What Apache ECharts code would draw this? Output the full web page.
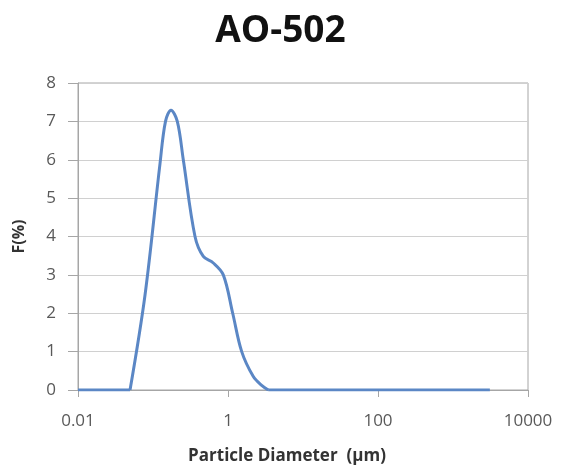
<!DOCTYPE html>
<html>
<head>
<meta charset="utf-8">
<script src="https://cdn.jsdelivr.net/npm/echarts@6/dist/echarts.min.js"></script>
<style>
  html, body { margin: 0; padding: 0; background: #fff; }
  #myChart { width: 561px; height: 470px; }
</style>
</head>
<body>
<div id="myChart"></div>
<script>
// particle diameter (µm) and frequency F(%) (the peak part)
const diameters = [0.0494, 0.0782, 0.124, 0.1468, 0.1738, 0.2109, 0.2535, 0.3631, 0.4686, 0.6368, 0.8656, 1.155, 1.523, 2.175, 2.813, 3.446];
const fValues = [0, 2.47, 5.9, 7.0, 7.29, 7.0, 6.0, 4.0, 3.48, 3.31, 3.0, 2.0, 1.0, 0.35, 0.12, 0];
// flat zero parts on both sides
const lowTail = [0.01, 0.0494];
const highTail = [3.446, 3100];
const xTickLabels = ["0.01", "1", "100", "10000"];
const yTicks = [0, 8, 1]; // min, max, step

let chart = echarts.init(document.getElementById("myChart"));

const lineStyle = { color: "#5b87c5", width: 3 };

let option = {
  animation: false,
  title: {
    text: "AO-502",
    left: "center",
    top: 8,
    textStyle: {
      fontFamily: "Open Sans",
      fontSize: 37,
      fontWeight: "bold",
      color: "#111"
    }
  },
  grid: {
    left: 78,
    right: 33,
    top: 83,
    bottom: 80,
    show: true,
    borderColor: "#a6a6a6",
    borderWidth: 1
  },
  xAxis: {
    type: "log",
    logBase: 100,
    min: 0.01,
    max: 10000,
    name: "Particle Diameter  (µm)",
    nameLocation: "middle",
    nameGap: 58,
    nameTextStyle: {
      fontFamily: "Open Sans",
      fontSize: 17,
      fontWeight: "bold",
      color: "#333",
      padding: [0, 32, 0, 0]
    },
    axisLine: { lineStyle: { color: "#a6a6a6" } },
    axisTick: { show: true, length: 7, lineStyle: { color: "#a6a6a6" } },
    splitLine: { show: false },
    axisLabel: {
      fontFamily: "Open Sans",
      fontSize: 17,
      color: "#595959",
      margin: 23,
      formatter: function (v, i) { return xTickLabels[i] !== undefined ? xTickLabels[i] : String(v); }
    }
  },
  yAxis: {
    type: "value",
    min: yTicks[0],
    max: yTicks[1],
    interval: yTicks[2],
    name: "F(%)",
    nameLocation: "middle",
    nameRotate: 90,
    nameGap: 51,
    nameTextStyle: {
      fontFamily: "Open Sans",
      fontSize: 16,
      fontWeight: "bold",
      color: "#333"
    },
    axisLine: { show: true, lineStyle: { color: "#a6a6a6" } },
    axisTick: { show: true, length: 10, lineStyle: { color: "#a6a6a6" } },
    splitLine: { show: true, lineStyle: { color: "#d0d0d0" } },
    axisLabel: {
      fontFamily: "Open Sans",
      fontSize: 17,
      color: "#595959",
      margin: 22
    }
  },
  series: [
    {
      type: "line",
      data: diameters.map((d, i) => [d, fValues[i]]),
      smooth: 0.35,
      showSymbol: false,
      lineStyle: lineStyle
    },
    {
      type: "line",
      data: lowTail.map(d => [d, 0]),
      showSymbol: false,
      lineStyle: lineStyle
    },
    {
      type: "line",
      data: highTail.map(d => [d, 0]),
      showSymbol: false,
      lineStyle: lineStyle
    }
  ]
};

chart.setOption(option);
</script>
</body>
</html>
